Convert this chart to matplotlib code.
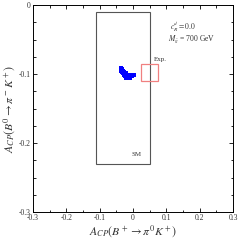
import numpy as np
import matplotlib
matplotlib.use('Agg')
from matplotlib import pyplot as plt
from matplotlib.patches import Rectangle
from matplotlib.ticker import MultipleLocator, FuncFormatter

# -------------------------------------------------------------------
# scan points
blob_x = [-0.036,
          -0.036, -0.034,
          -0.035, -0.033, -0.031,
          -0.033, -0.031, -0.029, -0.027,
          -0.031, -0.029, -0.027, -0.025, -0.023, -0.021,
          -0.028, -0.026, -0.024, -0.022, -0.020, -0.018, -0.016, -0.014, -0.012, -0.010, -0.008, 0.000, 0.002,
          -0.024, -0.022, -0.020, -0.018, -0.016, -0.014, -0.012, -0.010, -0.008, -0.006, -0.004, -0.002, 0.000,
          -0.020, -0.018, -0.016, -0.014, -0.012, -0.010, -0.008]
blob_y = [-0.091,
          -0.093, -0.093,
          -0.095, -0.095, -0.095,
          -0.097, -0.097, -0.097, -0.097,
          -0.099, -0.099, -0.099, -0.099, -0.099, -0.099,
          -0.101, -0.101, -0.101, -0.101, -0.101, -0.101, -0.101, -0.101, -0.101, -0.101, -0.101, -0.101, -0.101,
          -0.103, -0.103, -0.103, -0.103, -0.103, -0.103, -0.103, -0.103, -0.103, -0.103, -0.103, -0.103, -0.102,
          -0.105, -0.105, -0.105, -0.105, -0.105, -0.105, -0.105]

sm_x = (-0.11, 0.05)
sm_y = (-0.23, -0.01)
exp_x = (0.025, 0.075)
exp_y = (-0.11, -0.085)

# -------------------------------------------------------------------
plt.rcParams['font.family'] = 'Liberation Serif'
plt.rcParams['mathtext.fontset'] = 'stix'

fig = plt.figure(figsize=(2.41, 2.41), dpi=100)
ax = fig.add_axes([0.137, 0.12, 0.83, 0.859])

ax.add_patch(Rectangle((sm_x[0], sm_y[0]), sm_x[1] - sm_x[0], sm_y[1] - sm_y[0],
                       fill=False, edgecolor='#555555', lw=0.8))
ax.add_patch(Rectangle((exp_x[0], exp_y[0]), exp_x[1] - exp_x[0], exp_y[1] - exp_y[0],
                       fill=False, edgecolor='#f08080', lw=0.9))
ax.scatter(blob_x, blob_y, s=7, c='blue', marker='s', linewidths=0)

ax.text(0.112, -0.031, r'$c_R^d = 0.0$', fontsize=5.5, ha='left', va='center', color='#333333')
ax.text(0.104, -0.049, r'$M_{\tilde{g}}$ = 700 GeV', fontsize=5.5, ha='left', va='center', color='#333333')
ax.text(0.083, -0.079, 'Exp.', fontsize=5, ha='center', va='center', color='#333333')
ax.text(0.009, -0.217, 'SM', fontsize=5, ha='center', va='center', color='#333333')

ax.set_xlim(-0.3, 0.3)
ax.set_ylim(-0.3, 0)
ax.xaxis.set_major_locator(MultipleLocator(0.1))
ax.xaxis.set_minor_locator(MultipleLocator(0.05))
ax.yaxis.set_major_locator(MultipleLocator(0.1))
ax.yaxis.set_minor_locator(MultipleLocator(0.025))


def fmt(v, pos):
    if abs(v) < 1e-9:
        return '0'
    return ('%.1f' % v)


ax.xaxis.set_major_formatter(FuncFormatter(fmt))
ax.yaxis.set_major_formatter(FuncFormatter(fmt))
ax.tick_params(which='both', direction='in', top=True, right=True,
               labelsize=5.5, labelcolor='#333333', width=0.6)
ax.tick_params(which='major', length=3, pad=1.5)
ax.tick_params(which='minor', length=1.8)
for s in ax.spines.values():
    s.set_linewidth(0.7)

ax.set_xlabel(r'$A_{CP}(B^+ \to \pi^0 K^+)$', fontsize=8.5, color='#333333')
ax.set_ylabel(r'$A_{CP}(B^0 \to \pi^- K^+)$', fontsize=8.5, color='#333333')
ax.xaxis.set_label_coords(0.5, -0.092)
ax.yaxis.set_label_coords(-0.118, 0.5)
ax.xaxis.label.set_va('center')
ax.yaxis.label.set_va('center')

plt.savefig('out.png', dpi=100)
